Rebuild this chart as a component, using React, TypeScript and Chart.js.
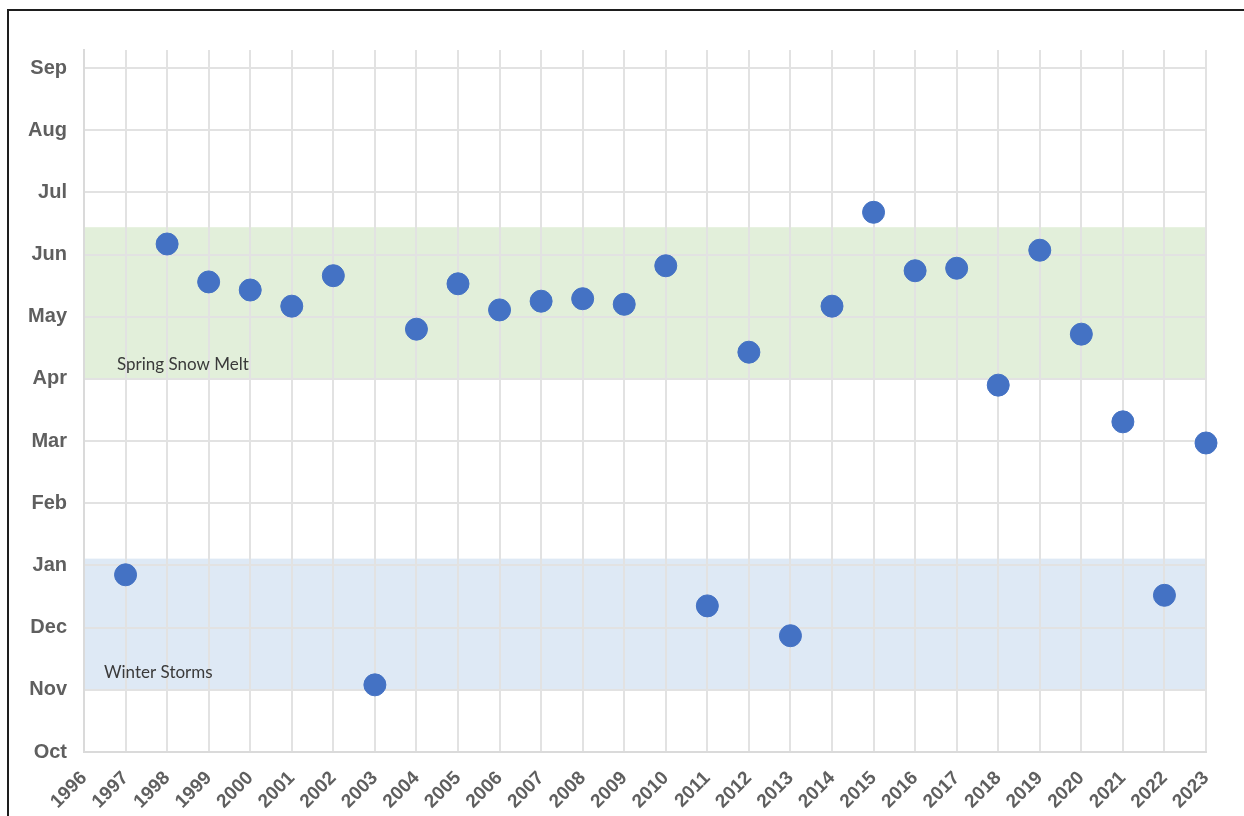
import React, { useEffect, useRef } from "react";
import { Chart, registerables } from "chart.js";

Chart.register(...registerables);

const years = [1997,1998,1999,2000,2001,2002,2003,2004,2005,2006,2007,2008,2009,2010,2011,2012,2013,2014,2015,2016,2017,2018,2019,2020,2021,2022,2023];
const peakMonth = [2.85,8.17,7.56,7.43,7.17,7.66,1.08,6.80,7.53,7.11,7.25,7.29,7.20,7.82,2.35,6.43,1.87,7.17,8.68,7.74,7.78,5.90,8.07,6.72,5.31,2.52,4.97];
const monthLabels = ["Oct","Nov","Dec","Jan","Feb","Mar","Apr","May","Jun","Jul","Aug","Sep"];
const bandNames = ["Spring Snow Melt", "Winter Storms"];
const bandFrom = [6, 1];
const bandTo = [8.44, 3.11];
const bandColors = ["rgba(226,239,218,1)", "rgba(222,233,245,1)"];

const bandPlugin = {
  id: "bands",
  beforeDraw(chart: any) {
    const { ctx, chartArea, scales } = chart;
    const y = scales.y;
    if (!chartArea || !y) return;
    ctx.save();
    bandNames.forEach((name, i) => {
      const top = y.getPixelForValue(bandTo[i]);
      const bot = y.getPixelForValue(bandFrom[i]);
      ctx.fillStyle = bandColors[i];
      ctx.fillRect(chartArea.left, top, chartArea.right - chartArea.left, bot - top);
    });
    ctx.restore();
  },
  beforeDatasetsDraw(chart: any) {
    const { ctx, chartArea, scales } = chart;
    const y = scales.y;
    ctx.save();
    ctx.fillStyle = "#3a3a3a";
    ctx.font = "17px Lato";
    ctx.textBaseline = "middle";
    ctx.fillText(bandNames[0], chartArea.left + 33, y.getPixelForValue(bandFrom[0]) - 14);
    ctx.fillText(bandNames[1], chartArea.left + 20, y.getPixelForValue(bandFrom[1]) - 17);
    ctx.restore();
  },
};

export default function App() {
  const ref = useRef<HTMLCanvasElement>(null);
  useEffect(() => {
    if (!ref.current) return;
    const chart = new Chart(ref.current, {
      type: "scatter",
      data: {
        datasets: [
          {
            data: years.map((yr, i) => ({ x: yr, y: peakMonth[i] })),
            backgroundColor: "#4472C4",
            borderColor: "#4472C4",
            pointRadius: 11,
            pointHoverRadius: 11,
            clip: false,
          } as any,
        ],
      },
      options: {
        animation: false,
        responsive: false,
        maintainAspectRatio: false,
        layout: { padding: { left: 0, top: 50, right: 38, bottom: 0 } },
        plugins: { legend: { display: false }, tooltip: { enabled: false } },
        scales: {
          x: {
            type: "linear",
            min: 1996,
            max: 2023,
            afterFit: (s: any) => { s.height = 64; },
            ticks: {
              stepSize: 1,
              autoSkip: false,
              maxRotation: 45,
              minRotation: 45,
              padding: 15,
              color: "#5f5f5f",
              font: { family: "Liberation Sans, Arial", size: 19, weight: "bold" },
              callback: (v: any) => String(v),
            },
            grid: { color: "#e2e2e2", lineWidth: 2, drawTicks: false },
            border: { color: "#dadada", width: 2 },
          },
          y: {
            type: "linear",
            min: 0,
            max: 11.29,
            afterFit: (s: any) => { s.width = 84; },
            ticks: {
              stepSize: 1,
              includeBounds: false,
              padding: 17,
              color: "#5f5f5f",
              font: { family: "Liberation Sans, Arial", size: 20, weight: "bold" },
              callback: (v: any) => monthLabels[Math.round(v)] ?? "",
            },
            grid: { color: "#e2e2e2", lineWidth: 2, drawTicks: false },
            border: { color: "#dadada", width: 2 },
          },
        },
      },
      plugins: [bandPlugin],
    });
    return () => chart.destroy();
  }, []);
  return (
    <>
      <div
        style={{
          position: "fixed",
          left: 7,
          top: 9,
          width: "calc(100vw - 7px)",
          height: "calc(100vh - 9px)",
          borderTop: "2px solid #1e1e1e",
          borderLeft: "2px solid #1e1e1e",
          boxSizing: "border-box",
        }}
      />
      <canvas
        ref={ref}
        width={1244}
        height={816}
        style={{ position: "fixed", left: 0, top: 0, width: 1244, height: 816 }}
      />
    </>
  );
}
